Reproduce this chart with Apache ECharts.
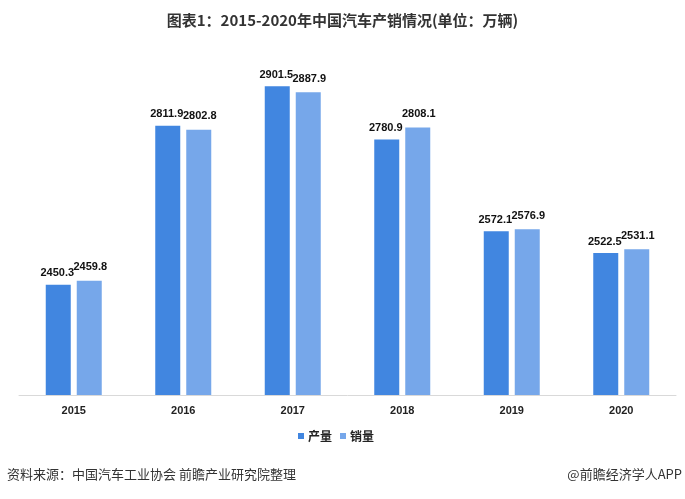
<!DOCTYPE html>
<html><head><meta charset="utf-8">
<script src="https://cdn.jsdelivr.net/npm/echarts@6/dist/echarts.min.js"></script>
<style>html,body{margin:0;padding:0;background:#fff}#c{width:685px;height:499px}</style>
</head><body><div id="c"></div>
<script>
const years = ['2015','2016','2017','2018','2019','2020'];
const production = [2450.3, 2811.9, 2901.5, 2780.9, 2572.1, 2522.5];
const sales = [2459.8, 2802.8, 2887.9, 2808.1, 2576.9, 2531.1];
const seriesNames = ['产量','销量'];

const chart = echarts.init(document.getElementById('c'));
const mkLbl = (d, dx) => ({show:true, position:'top', distance:d, offset:[dx,0], color:'#111', fontSize:11, fontWeight:'bold', fontFamily:'"Liberation Sans",Arial,sans-serif', formatter: p => p.value.toFixed(1)});
chart.setOption({
  animation:false,
  title:{text:'图表1：2015-2020年中国汽车产销情况(单位：万辆)', left:'center', top:8,
    textStyle:{fontSize:15, fontWeight:'bold', color:'#333', fontFamily:'"Noto Sans CJK SC",sans-serif'}},
  legend:{data:seriesNames, bottom:52, left:293, itemWidth:6, itemHeight:6, itemGap:8, icon:'rect',
    textStyle:{fontSize:12, fontWeight:'bold', color:'#222', fontFamily:'"Noto Sans CJK SC",sans-serif', padding:[0,0,0,-1]}},
  grid:{left:19, right:9, top:43, height:352},
  xAxis:{type:'category', data:years, axisTick:{show:false},
    axisLine:{lineStyle:{color:'#d9d9d9'}},
    axisLabel:{fontSize:11, fontWeight:'bold', color:'#222', margin:10, fontFamily:'"Liberation Sans",Arial,sans-serif'}},
  yAxis:{type:'value', min:2200, max:3000, show:false, splitLine:{show:false}},
  series:[
    {name:seriesNames[0], type:'bar', data:production, barWidth:25, barGap:'24%', itemStyle:{color:'#4186E0'}, label:mkLbl(6,-1)},
    {name:seriesNames[1], type:'bar', data:sales, barWidth:25, itemStyle:{color:'#76A7EA'}, label:mkLbl(8,1)}
  ],
  graphic:[
    {type:'text', left:7, top:468, style:{text:'资料来源：中国汽车工业协会 前瞻产业研究院整理', fontSize:13, fill:'#333', fontFamily:'"Noto Sans CJK SC",sans-serif'}},
    {type:'text', right:3, top:468, style:{text:'@前瞻经济学人APP', fontSize:13, fill:'#333', fontFamily:'"Noto Sans CJK SC",sans-serif'}}
  ]
});
</script></body></html>
